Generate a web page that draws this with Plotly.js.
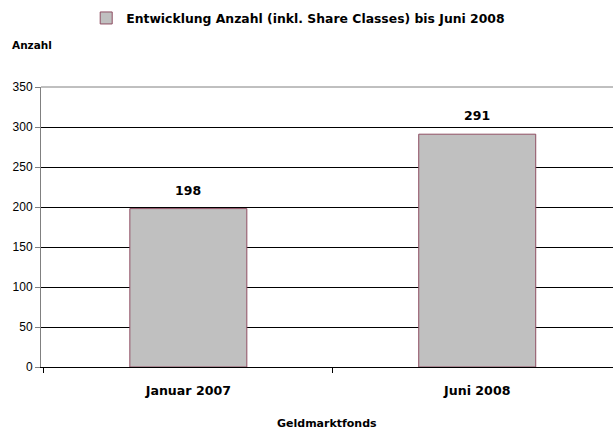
<!DOCTYPE html>
<html>
<head>
<meta charset="utf-8">
<script src="https://cdn.plot.ly/plotly-3.0.1.min.js"></script>
<style>html,body{margin:0;padding:0;background:#fff;}#chart{width:613px;height:433px;}</style>
</head>
<body>
<div id="chart"></div>
<script>
const categories = ["Januar 2007", "Juni 2008"];
const values = [198, 291];
const seriesName = "Entwicklung Anzahl (inkl. Share Classes) bis Juni 2008";
const yTicks = [0, 50, 100, 150, 200, 250, 300, 350];
const yAxisTitle = "Anzahl";
const xAxisTitle = "Geldmarktfonds";

const boldFont = "DejaVu Sans";
const trace = {
  type: "bar",
  x: categories,
  y: values,
  name: seriesName,
  width: 0.405,
  marker: {color: "#C0C0C0", line: {color: "#8E4D62", width: 1}},
  showlegend: true,
  hoverinfo: "none"
};

const annotations = categories.map((c, i) => ({
  x: c, y: values[i], xref: "x", yref: "y",
  text: "<b>" + values[i] + "</b>", showarrow: false,
  yanchor: "bottom", yshift: 9,
  font: {family: boldFont, size: 12.5, color: "#000"}
}));
annotations.push({
  xref: "paper", yref: "paper", x: -0.055, y: 1.15, xanchor: "left", yanchor: "middle",
  text: "<b>" + yAxisTitle + "</b>", showarrow: false,
  font: {family: boldFont, size: 10.5, color: "#000"}
});
annotations.push({
  xref: "paper", yref: "paper", x: 0.5, y: -0.2, xanchor: "center", yanchor: "middle",
  text: "<b>" + xAxisTitle + "</b>", showarrow: false,
  font: {family: boldFont, size: 11, color: "#000"}
});

const layout = {
  width: 613, height: 433,
  margin: {l: 41, r: 0, t: 87, b: 66},
  paper_bgcolor: "#fff", plot_bgcolor: "#fff",
  showlegend: true,
  legend: {
    orientation: "h", x: 0.079, xanchor: "left", y: 1.245, yanchor: "middle",
    font: {family: boldFont, size: 12.4, color: "#000", weight: "bold"},
    itemwidth: 30, bgcolor: "rgba(0,0,0,0)"
  },
  xaxis: {
    type: "category", range: [-0.51, 1.47],
    showline: true, linecolor: "#000", linewidth: 1,
    ticks: "outside", tickson: "boundaries", ticklen: 5, tickcolor: "#000",
    showgrid: false, zeroline: false,
    tickfont: {family: boldFont, size: 12.6, color: "#000", weight: "bold"},
    ticklabelstandoff: 12
  },
  yaxis: {
    range: [0, 350], tickvals: yTicks,
    showline: true, linecolor: "#808080", linewidth: 1,
    ticks: "outside", ticklen: 5, tickcolor: "#808080",
    showgrid: true, gridcolor: "#000", gridwidth: 1,
    zeroline: false,
    tickfont: {family: "Liberation Sans", size: 12, color: "#000"}
  },
  shapes: [{type: "line", xref: "paper", yref: "paper", x0: 0, x1: 1, y0: 1, y1: 1,
            line: {color: "#808080", width: 1}, layer: "above"}],
  annotations: annotations
};

Plotly.newPlot("chart", [trace], layout, {displayModeBar: false, staticPlot: true});
</script>
</body>
</html>
